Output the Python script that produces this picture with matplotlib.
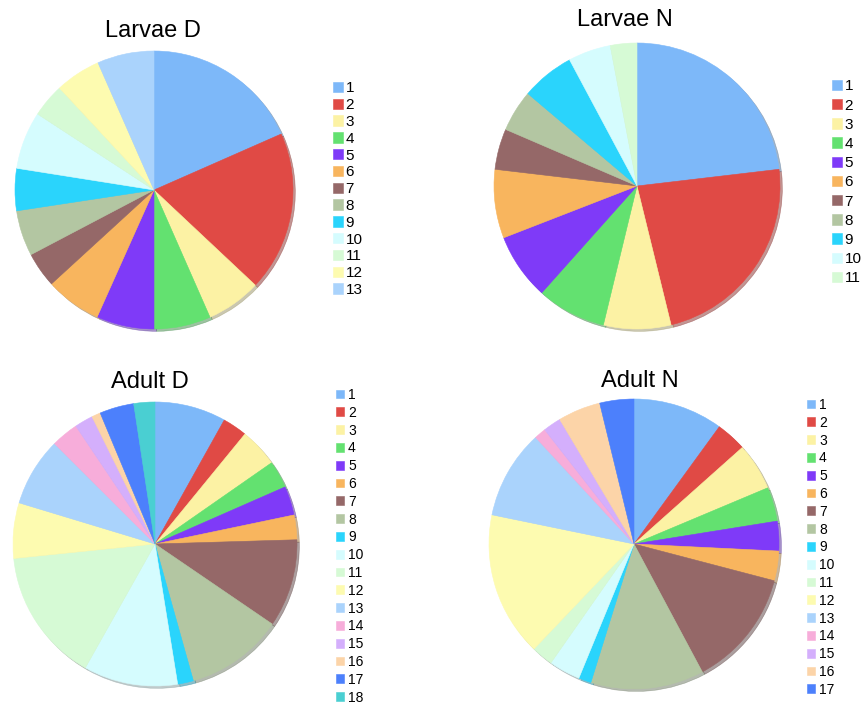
import matplotlib
matplotlib.use('Agg')
import matplotlib.pyplot as plt

plt.rcParams['font.family'] = ['Liberation Sans', 'DejaVu Sans']

W, H = 862, 707  # canvas in pixels (dpi 100)

# colours shared by group numbers 1-18
palette = ['#7DB8F9', '#E04A45', '#FCF2A4', '#63E170', '#7F3AF8', '#F8B55E',
           '#956868', '#B3C6A2', '#2AD4FC', '#D5FCFE', '#D6FAD5', '#FDFBB0',
           '#AAD3FC', '#F7ADDA', '#D4AFFC', '#FCD4A8', '#4C80FC', '#4ACFD2']

# share of each group (%)
larvae_d = [18.4, 18.6, 6.4, 6.6, 6.7, 6.5, 4.1, 5.3, 4.9, 6.7, 3.9, 5.3, 6.6]
larvae_n = [23.1, 23.0, 7.6, 7.8, 7.5, 7.75, 4.6, 4.7, 6.0, 4.8, 3.0]
adult_d = [8.1, 2.8, 4.4, 3.1, 3.3, 2.8, 10.0, 11.1, 1.8, 10.7, 15.2, 6.3,
           7.8, 3.1, 2.1, 1.0, 3.9, 2.4]
adult_n = [10.0, 3.4, 5.25, 3.8, 3.3, 3.3, 13.1, 12.6, 1.4, 3.5, 2.4, 16.1,
           9.9, 1.3, 2.0, 4.75, 3.8]

# title, values, pie centre/radius (px), title centre/baseline (px),
# legend left/first-row centre (px), legend font size, row pitch (px),
# legend square size and text gap (px)
panels = [
    ('Larvae D', larvae_d, (154, 190), 139, (153, 37), (333, 87), 11.0, 16.8, 10, 2.5),
    ('Larvae N', larvae_n, (637, 186), 143, (625, 26), (832, 85), 11.0, 19.2, 10, 2.5),
    ('Adult D', adult_d, (155, 544), 142, (150, 388), (336, 394), 10.0, 17.8, 8, 4.0),
    ('Adult N', adult_n, (634, 544), 145, (640, 387), (807, 404), 10.0, 17.8, 8, 4.0),
]


def add_legend(ax, wedges, n, fs, spacing, top, left, sq, gap):
    fs_px = fs * 100 / 72
    return ax.legend(wedges, [str(i + 1) for i in range(n)],
                     loc='upper left', bbox_to_anchor=(left / W, 1 - top / H),
                     bbox_transform=ax.figure.transFigure, frameon=False,
                     fontsize=fs, borderpad=0, borderaxespad=0,
                     handlelength=sq / fs_px, handleheight=sq / fs_px,
                     handletextpad=gap / fs_px, labelspacing=spacing)


def row_centres(fig, leg):
    fig.canvas.draw()
    r = fig.canvas.get_renderer()
    out = []
    for h in leg.legend_handles:
        bb = h.get_window_extent(r)
        out.append(H - (bb.y0 + bb.y1) / 2)
    return out


fig = plt.figure(figsize=(W / 100, H / 100), dpi=100)

for title, vals, (cx, cy), r, (tx, ty), (lx, ly), fs, pitch, sq, gap in panels:
    ax = fig.add_axes([(cx - r) / W, (H - cy - r) / H, 2 * r / W, 2 * r / H])
    wedges, _ = ax.pie(vals, colors=palette[:len(vals)], startangle=90,
                       counterclock=False, wedgeprops=dict(linewidth=0.4),
                       shadow=dict(ox=0.012, oy=-0.012, shade=0.4))
    for w in wedges:
        w.set_edgecolor(w.get_facecolor())
    ax.set_xlim(-1.0, 1.0)
    ax.set_ylim(-1.0, 1.0)

    fig.text(tx / W, 1 - ty / H, title, ha='center', va='baseline',
             fontsize=17)

    # lay the legend out once, then correct row pitch and offset
    fs_px = fs * 100 / 72
    n = len(vals)
    spacing, top = 0.3, ly - fs_px / 2
    leg = add_legend(ax, wedges, n, fs, spacing, top, lx, sq, gap)
    c = row_centres(fig, leg)
    spacing += (pitch - (c[-1] - c[0]) / (n - 1)) / fs_px
    leg = add_legend(ax, wedges, n, fs, spacing, top, lx, sq, gap)
    c = row_centres(fig, leg)
    add_legend(ax, wedges, n, fs, spacing, top + ly - c[0], lx, sq, gap)

fig.savefig('out.png', dpi=100)
